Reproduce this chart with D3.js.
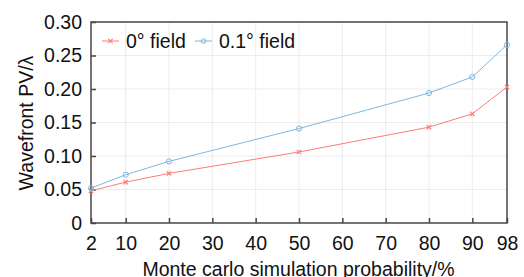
<!DOCTYPE html>
<html>
<head>
<meta charset="utf-8">
<script src="https://cdn.jsdelivr.net/npm/d3@7"></script>
<style>
  body { margin: 0; background: #fff; }
  text { font-family: "Liberation Sans", Arial, sans-serif; fill: #111; }
</style>
</head>
<body>
<svg width="524" height="277"></svg>
<script>
var probability = [2, 10, 20, 50, 80, 90, 98];
var field0 = [0.048, 0.061, 0.074, 0.106, 0.143, 0.163, 0.203];
var field01 = [0.052, 0.072, 0.092, 0.141, 0.194, 0.218, 0.266];
var xTicks = [2, 10, 20, 30, 40, 50, 60, 70, 80, 90, 98];
var yTicks = [0, 0.05, 0.10, 0.15, 0.20, 0.25, 0.30];

var pL = 91, pR = 507, pT = 22, pB = 223;
var fs = 19.5;
var svg = d3.select("svg");

var scX = d3.scaleLinear().domain([2, 98]).range([pL, pR]);
var scY = d3.scaleLinear().domain([0, 0.30]).range([pB, pT]);

// grid
var grid = svg.append("g").attr("stroke", "#ececec").attr("stroke-width", 1);
grid.selectAll("line.gx").data(xTicks.slice(1, -1)).enter().append("line")
    .attr("x1", d => scX(d)).attr("x2", d => scX(d))
    .attr("y1", pT).attr("y2", pB);
grid.selectAll("line.gy").data(yTicks.slice(1, -1)).enter().append("line")
    .attr("x1", pL).attr("x2", pR)
    .attr("y1", d => scY(d)).attr("y2", d => scY(d));

// frame
svg.append("rect").attr("x", pL).attr("y", pT)
    .attr("width", pR - pL).attr("height", pB - pT)
    .attr("fill", "none").attr("stroke", "#4a4444").attr("stroke-width", 1.5);

// axes (ticks inward)
var xAxis = svg.append("g").attr("transform", "translate(0," + pB + ")")
    .call(d3.axisBottom(scX).tickValues(xTicks).tickSize(-5).tickPadding(13)
        .tickFormat(d3.format("d")));
var yAxis = svg.append("g").attr("transform", "translate(" + pL + ",0)")
    .call(d3.axisLeft(scY).tickValues(yTicks).tickSize(-5).tickPadding(9)
        .tickFormat(d => d === 0 ? "0" : d3.format(".2f")(d)));
[xAxis, yAxis].forEach(function(a) {
    a.select(".domain").remove();
    a.selectAll(".tick line").attr("stroke", "#4a4444").attr("stroke-width", 1.5);
    a.selectAll(".tick text").attr("font-size", fs).attr("fill", "#111")
        .attr("font-family", "Liberation Sans, Arial, sans-serif");
});

// titles
svg.append("text").attr("x", 298.5).attr("y", 276)
    .attr("text-anchor", "middle").attr("font-size", fs)
    .text("Monte carlo simulation probability/%");
svg.append("text").attr("transform", "translate(33,123) rotate(-90)")
    .attr("text-anchor", "middle").attr("font-size", fs)
    .text("Wavefront PV/λ");

var lineMaker = d3.line().x((d, i) => scX(probability[i])).y(d => scY(d));
var redC = "#ff7b7b", blueC = "#7db8e0";

// series 0° field
svg.append("path").attr("d", lineMaker(field0))
    .attr("fill", "none").attr("stroke", redC).attr("stroke-width", 1);
var cross = d3.symbol().type(d3.symbolX).size(14);
svg.append("g").selectAll("path").data(field0).enter().append("path")
    .attr("d", cross)
    .attr("transform", (d, i) => "translate(" + scX(probability[i]) + "," + scY(d) + ")")
    .attr("fill", "none").attr("stroke", redC).attr("stroke-width", 1.2);

// series 0.1° field
svg.append("path").attr("d", lineMaker(field01))
    .attr("fill", "none").attr("stroke", blueC).attr("stroke-width", 1);
svg.append("g").selectAll("circle").data(field01).enter().append("circle")
    .attr("cx", (d, i) => scX(probability[i])).attr("cy", d => scY(d))
    .attr("r", 2.6).attr("fill", "none").attr("stroke", blueC).attr("stroke-width", 1);

// legend
var lg = svg.append("g");
lg.append("line").attr("x1", 102).attr("x2", 119).attr("y1", 41).attr("y2", 41)
    .attr("stroke", redC);
lg.append("path").attr("d", cross).attr("transform", "translate(110.5,41)")
    .attr("fill", "none").attr("stroke", redC).attr("stroke-width", 1.2);
lg.append("text").attr("x", 126).attr("y", 47.5).attr("font-size", fs).text("0° field");
lg.append("line").attr("x1", 195).attr("x2", 212).attr("y1", 41).attr("y2", 41)
    .attr("stroke", blueC);
lg.append("circle").attr("cx", 203.5).attr("cy", 41).attr("r", 2.3)
    .attr("fill", "none").attr("stroke", blueC);
lg.append("text").attr("x", 219).attr("y", 47.5).attr("font-size", fs).text("0.1° field");
</script>
</body>
</html>
